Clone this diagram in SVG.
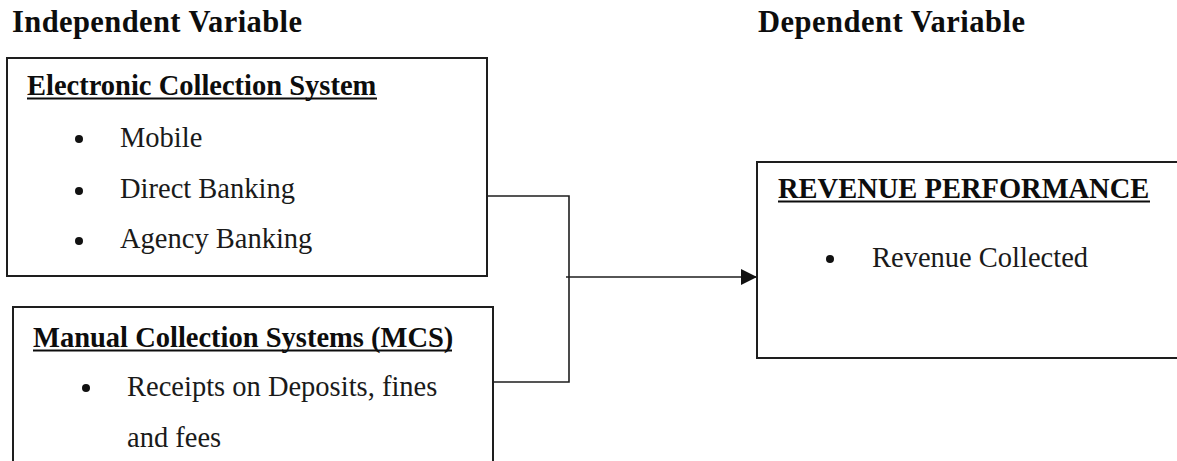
<svg xmlns="http://www.w3.org/2000/svg" width="1177" height="461" viewBox="0 0 1177 461">
<defs>
<style>
.box{fill:#fff;stroke:#1e1e1e;stroke-width:2}
.t{font-family:"Liberation Serif","Times New Roman",serif;font-size:28.5px;fill:#1a1a1a}
.b{font-weight:bold;fill:#0d0d0d}
.h{font-size:30.5px}
.ul{stroke:#0d0d0d;stroke-width:2.2}
.dot{fill:#111}
.con{fill:none;stroke:#1e1e1e;stroke-width:1.6}
</style>
<marker id="arr" viewBox="0 0 16 16" refX="16" refY="8" markerWidth="16" markerHeight="16" markerUnits="userSpaceOnUse" orient="auto">
<path d="M0,0 L16,8 L0,16 Z" fill="#111"/>
</marker>
</defs>
<rect width="1177" height="461" fill="#fff"/>
<g id="headings">
<text class="t b h" x="12" y="32" textLength="290">Independent Variable</text>
<text class="t b h" x="758" y="32" textLength="267">Dependent Variable</text>
</g>
<g id="connectors">
<polyline class="con" points="487,196 569,196 569,382 493,382"/>
<line class="con" x1="566" y1="277" x2="757" y2="277" marker-end="url(#arr)"/>
</g>
<g id="electronic">
<rect class="box" x="7" y="58" width="480" height="218"/>
<text class="t b" x="27" y="95">Electronic Collection System</text>
<line class="ul" x1="27" y1="98.5" x2="377" y2="98.5"/>
<circle class="dot" cx="79" cy="139" r="4"/>
<text class="t" x="120" y="147">Mobile</text>
<circle class="dot" cx="79" cy="191" r="4"/>
<text class="t" x="120" y="198">Direct Banking</text>
<circle class="dot" cx="79" cy="241" r="4"/>
<text class="t" x="120" y="248">Agency Banking</text>
</g>
<g id="manual">
<rect class="box" x="13" y="307" width="480" height="170"/>
<text class="t b" x="33" y="347">Manual Collection Systems (MCS)</text>
<line class="ul" x1="33" y1="350.5" x2="452" y2="350.5"/>
<circle class="dot" cx="86" cy="388" r="4"/>
<text class="t" x="127" y="396">Receipts on Deposits, fines</text>
<text class="t" x="127" y="447">and fees</text>
</g>
<g id="revenue">
<rect class="box" x="757" y="162" width="430" height="196"/>
<text class="t b" x="778" y="198">REVENUE PERFORMANCE</text>
<line class="ul" x1="778" y1="201.5" x2="1150" y2="201.5"/>
<circle class="dot" cx="830" cy="259" r="4"/>
<text class="t" x="872" y="267">Revenue Collected</text>
</g>
</svg>
